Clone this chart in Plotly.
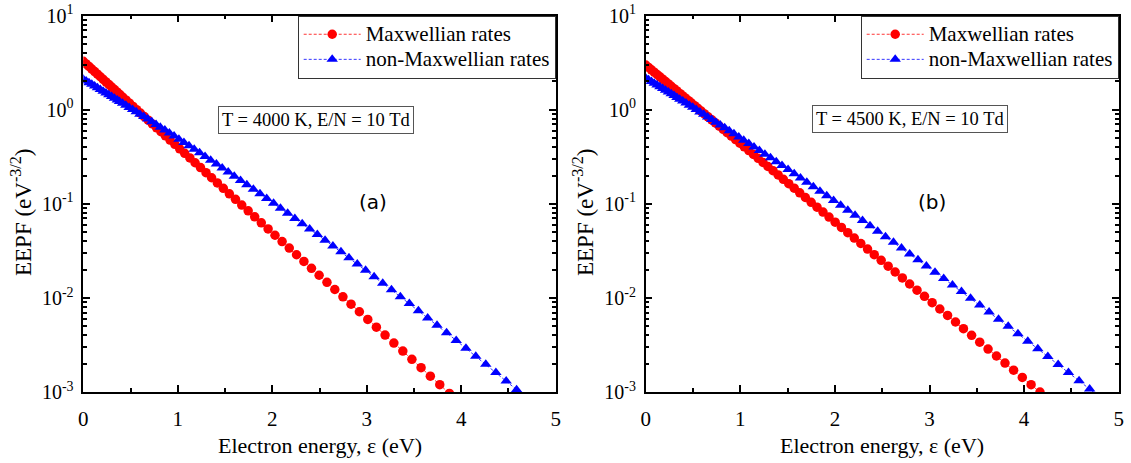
import plotly.graph_objects as go

# ---------------- data ----------------
# Panel (a): T = 4000 K, E/N = 10 Td
energy_a_max = [0.00, 0.03, 0.06, 0.09, 0.12, 0.15, 0.18, 0.21, 0.24, 0.27, 0.30, 0.33, 0.36,
                0.386, 0.419, 0.454, 0.489, 0.526, 0.564, 0.604, 0.645, 0.687, 0.731, 0.776, 0.822,
                0.869, 0.918, 0.969, 1.020, 1.073, 1.128, 1.183, 1.240, 1.299, 1.358, 1.419, 1.482,
                1.546, 1.611, 1.677, 1.745, 1.814, 1.884, 1.956, 2.029, 2.104, 2.180, 2.257, 2.335,
                2.415, 2.496, 2.579, 2.662, 2.748, 2.834, 2.922, 3.011, 3.102, 3.194, 3.287, 3.382,
                3.478, 3.575, 3.673, 3.773, 3.875]
eepf_a_max = [3.273, 3.073, 2.886, 2.710, 2.545, 2.389, 2.244, 2.107, 1.978, 1.858, 1.744, 1.638, 1.538,
              1.455, 1.358, 1.264, 1.174, 1.086, 1.002, 0.9226, 0.8468, 0.7747, 0.7071, 0.6436, 0.5841,
              0.5284, 0.4770, 0.4291, 0.3850, 0.3445, 0.3074, 0.2735, 0.2427, 0.2147, 0.1894, 0.1667, 0.1463,
              0.1279, 0.1116, 0.09712, 0.08424, 0.07286, 0.06287, 0.05408, 0.04638, 0.03967, 0.03384, 0.02878, 0.02441,
              0.02065, 0.01742, 0.01465, 0.01229, 0.01028, 0.008570, 0.007129, 0.005910, 0.004889, 0.004031, 0.003315, 0.002720,
              0.002223, 0.001813, 0.001474, 0.001195, 0.000966]

energy_a_non = [0.00, 0.03, 0.06, 0.09, 0.12, 0.15, 0.18, 0.21, 0.24, 0.27, 0.30, 0.33, 0.36,
                0.383, 0.416, 0.450, 0.485, 0.522, 0.560, 0.599, 0.640, 0.682, 0.725, 0.770, 0.815,
                0.863, 0.911, 0.961, 1.012, 1.065, 1.119, 1.174, 1.231, 1.289, 1.348, 1.409, 1.470,
                1.534, 1.598, 1.664, 1.731, 1.800, 1.870, 1.941, 2.014, 2.087, 2.163, 2.239, 2.317,
                2.396, 2.477, 2.559, 2.642, 2.727, 2.812, 2.900, 2.988, 3.078, 3.169, 3.262, 3.356,
                3.451, 3.547, 3.645, 3.744, 3.845, 3.947, 4.050, 4.154, 4.260, 4.367, 4.476, 4.586, 4.697]
eepf_a_non = [2.113, 2.027, 1.943, 1.864, 1.786, 1.713, 1.642, 1.573, 1.508, 1.445, 1.384, 1.326, 1.271,
              1.228, 1.172, 1.116, 1.060, 1.006, 0.9517, 0.8984, 0.8468, 0.7962, 0.7467, 0.6993, 0.6533,
              0.6090, 0.5661, 0.5253, 0.4862, 0.4492, 0.4138, 0.3803, 0.3487, 0.3190, 0.2911, 0.2650, 0.2406,
              0.2180, 0.1969, 0.1774, 0.1595, 0.1429, 0.1277, 0.1139, 0.1012, 0.08979, 0.07937, 0.06997, 0.06152,
              0.05391, 0.04710, 0.04105, 0.03566, 0.03087, 0.02666, 0.02294, 0.01968, 0.01683, 0.01434, 0.01218, 0.01031,
              0.008701, 0.007317, 0.006134, 0.005121, 0.004261, 0.003531, 0.002917, 0.002399, 0.001967, 0.001607,
              0.001307, 0.001059, 0.000855]

# Panel (b): T = 4500 K, E/N = 10 Td
energy_b_max = [0.00, 0.03, 0.06, 0.09, 0.12, 0.15, 0.18, 0.21, 0.24, 0.27, 0.30, 0.33,
                0.364, 0.392, 0.422, 0.453, 0.484, 0.517, 0.551, 0.586, 0.622, 0.659, 0.698, 0.737,
                0.777, 0.819, 0.861, 0.905, 0.950, 0.995, 1.042, 1.090, 1.139, 1.189, 1.240, 1.292,
                1.346, 1.400, 1.455, 1.512, 1.570, 1.628, 1.688, 1.749, 1.811, 1.874, 1.938, 2.003,
                2.069, 2.136, 2.205, 2.274, 2.345, 2.416, 2.489, 2.563, 2.637, 2.713, 2.790, 2.868,
                2.947, 3.028, 3.109, 3.191, 3.275, 3.359, 3.445, 3.531, 3.619, 3.708, 3.798, 3.889,
                3.981, 4.074, 4.168]
eepf_b_max = [2.985, 2.818, 2.661, 2.512, 2.371, 2.238, 2.113, 1.995, 1.883, 1.777, 1.678, 1.584,
              1.484, 1.405, 1.328, 1.251, 1.178, 1.106, 1.036, 0.9687, 0.9040, 0.8416, 0.7819, 0.7251,
              0.6712, 0.6197, 0.5712, 0.5253, 0.4821, 0.4416, 0.4036, 0.3681, 0.3351, 0.3044, 0.2759, 0.2495,
              0.2253, 0.2030, 0.1825, 0.1637, 0.1466, 0.1310, 0.1168, 0.1039, 0.09226, 0.08173, 0.07228, 0.06378,
              0.05617, 0.04936, 0.04329, 0.03788, 0.03308, 0.02884, 0.02508, 0.02177, 0.01886, 0.01630, 0.01406, 0.01210,
              0.01039, 0.008913, 0.007623, 0.006509, 0.005546, 0.004715, 0.004000, 0.003387, 0.002861, 0.002413, 0.002030,
              0.001705, 0.001429, 0.001195, 0.000997]

energy_b_non = [0.00, 0.03, 0.06, 0.09, 0.12, 0.15, 0.18, 0.21, 0.24, 0.27, 0.30, 0.33,
                0.360, 0.392, 0.426, 0.461, 0.497, 0.534, 0.573, 0.613, 0.655, 0.698, 0.742, 0.788,
                0.835, 0.883, 0.933, 0.984, 1.036, 1.090, 1.145, 1.202, 1.260, 1.319, 1.380, 1.441,
                1.505, 1.570, 1.636, 1.703, 1.772, 1.842, 1.914, 1.986, 2.061, 2.136, 2.213, 2.292,
                2.371, 2.452, 2.535, 2.619, 2.704, 2.790, 2.878, 2.967, 3.058, 3.150, 3.243, 3.338,
                3.434, 3.531, 3.630, 3.730, 3.832, 3.935, 4.039, 4.145, 4.251, 4.360, 4.469, 4.581,
                4.693, 4.807]
eepf_b_non = [2.178, 2.086, 1.998, 1.915, 1.834, 1.757, 1.682, 1.611, 1.543, 1.477, 1.414, 1.353,
              1.295, 1.236, 1.177, 1.119, 1.061, 1.004, 0.9482, 0.8936, 0.8402, 0.7882, 0.7381, 0.6894,
              0.6430, 0.5980, 0.5548, 0.5137, 0.4746, 0.4375, 0.4021, 0.3688, 0.3376, 0.3083, 0.2808, 0.2552,
              0.2313, 0.2092, 0.1886, 0.1698, 0.1524, 0.1364, 0.1218, 0.1085, 0.09638, 0.08538, 0.07543, 0.06647,
              0.05841, 0.05119, 0.04473, 0.03900, 0.03389, 0.02938, 0.02538, 0.02186, 0.01878, 0.01609, 0.01373, 0.01169,
              0.009922, 0.008395, 0.007082, 0.005951, 0.004989, 0.004168, 0.003470, 0.002878, 0.002381, 0.001963,
              0.001612, 0.001319, 0.001076, 0.000875]

series_names = ["Maxwellian rates", "non-Maxwellian rates"]
panel_labels = ["(a)", "(b)"]
condition_labels = ["T = 4000 K, E/N = 10 Td", "T = 4500 K, E/N = 10 Td"]
x_ticks = [0, 1, 2, 3, 4, 5]
x_minor = [0.5, 1.5, 2.5, 3.5, 4.5]
y_ticks = [0.001, 0.01, 0.1, 1, 10]
y_ticktext = ["10<sup>-3</sup>", "10<sup>-2</sup>", "10<sup>-1</sup>", "10<sup>0</sup>", "10<sup>1</sup>"]
y_minor = [m * d for d in [0.001, 0.01, 0.1, 1] for m in range(2, 10)]

# ---------------- figure ----------------
W, H = 1131, 463
def px(x):
    return x / W
def py(y):
    return 1 - y / H

SERIF = "Liberation Serif"
RED = "#ff0000"
BLUE = "#0000ff"

def legend_text(s):
    return '<span style="font-size:21px">' + s + '</span>'

fig = go.Figure()

panels = [
    ("x", "y", "legend", energy_a_max, eepf_a_max, energy_a_non, eepf_a_non),
    ("x2", "y2", "legend2", energy_b_max, eepf_b_max, energy_b_non, eepf_b_non),
]
for xa, ya, leg, ex1, ey1, ex2, ey2 in panels:
    fig.add_trace(go.Scatter(
        x=ex1, y=ey1, name=legend_text(series_names[0]), mode="lines+markers", xaxis=xa, yaxis=ya, legend=leg,
        line=dict(color=RED, width=0.8, dash="3px,2px"),
        marker=dict(symbol="circle", size=9.5, color=RED, line=dict(width=0))))
    fig.add_trace(go.Scatter(
        x=ex2, y=ey2, name=legend_text(series_names[1]), mode="lines+markers", xaxis=xa, yaxis=ya, legend=leg,
        line=dict(color=BLUE, width=0.8, dash="3px,2px"),
        marker=dict(symbol="triangle-up", size=10, color=BLUE, line=dict(width=0))))

axis_common = dict(
    showline=True, linecolor="black", linewidth=1.5, mirror="ticks",
    ticks="inside", tickcolor="black", tickwidth=1.5, ticklen=7,
    showgrid=False, zeroline=False, automargin=False,
    tickfont=dict(family=SERIF, size=21, color="black"),
)
xdomains = [[px(83.3), px(555.7)], [px(645.7), px(1118.7)]]
ydomain = [py(392), py(15.7)]

layout = dict(
    width=W, height=H, margin=dict(l=0, r=0, t=0, b=0),
    paper_bgcolor="white", plot_bgcolor="white",
    showlegend=True,
)
for i, (xn, yn) in enumerate([("xaxis", "yaxis"), ("xaxis2", "yaxis2")]):
    anchor_y = "y" if i == 0 else "y2"
    anchor_x = "x" if i == 0 else "x2"
    layout[xn] = dict(axis_common, domain=xdomains[i], anchor=anchor_y, range=[0, 5],
                      tickmode="array", tickvals=x_ticks, ticklabelstandoff=7,
                      minor=dict(tickmode="array", tickvals=x_minor, ticks="inside", ticklen=4,
                                 tickcolor="black", tickwidth=1.5, showgrid=False))
    layout[yn] = dict(axis_common, domain=ydomain, anchor=anchor_x, type="log", range=[-3, 1],
                      tickmode="array", tickvals=y_ticks, ticktext=y_ticktext, ticklabelstandoff=4,
                      tickfont=dict(family=SERIF, size=20, color="black"),
                      minor=dict(tickmode="array", tickvals=y_minor, ticks="inside", ticklen=4,
                                 tickcolor="black", tickwidth=1.5, showgrid=False))

legend_common = dict(
    bgcolor="white", bordercolor="#333333", borderwidth=1,
    font=dict(family=SERIF, size=17, color="black"),
    xanchor="right", yanchor="top", y=py(15.7), itemwidth=57, tracegroupgap=0,
)
layout["legend"] = dict(legend_common, x=px(555.7))
layout["legend2"] = dict(legend_common, x=px(1118.7))

annotations = []
panel_centers = [(83.3 + 555.7) / 2, (645.7 + 1118.7) / 2]
ytitle_x = [21, 583]
cond_centers = [(316, 120), (910, 119)]
lab_centers = [(373, 202), (932, 202)]
for i in range(2):
    annotations.append(dict(
        text="Electron energy, ε (eV)", x=px(panel_centers[i]), y=py(445), xref="paper", yref="paper",
        showarrow=False, xanchor="center", yanchor="middle",
        font=dict(family=SERIF, size=22, color="black")))
    annotations.append(dict(
        text="EEPF (eV<sup>-3/2</sup>)", x=px(ytitle_x[i]), y=py(212), xref="paper", yref="paper",
        showarrow=False, xanchor="center", yanchor="middle", textangle=-90,
        font=dict(family=SERIF, size=23, color="black")))
    annotations.append(dict(
        text=condition_labels[i], x=px(cond_centers[i][0]), y=py(cond_centers[i][1]), xref="paper", yref="paper",
        showarrow=False, xanchor="center", yanchor="middle", bgcolor="white",
        bordercolor="#555555", borderwidth=1, borderpad=3,
        font=dict(family=SERIF, size=18.5, color="black")))
    annotations.append(dict(
        text=panel_labels[i], x=px(lab_centers[i][0]), y=py(lab_centers[i][1]), xref="paper", yref="paper",
        showarrow=False, xanchor="center", yanchor="middle",
        font=dict(family="DejaVu Sans", size=20, color="black")))
layout["annotations"] = annotations

fig.update_layout(**layout)
fig.write_html("out.html")
